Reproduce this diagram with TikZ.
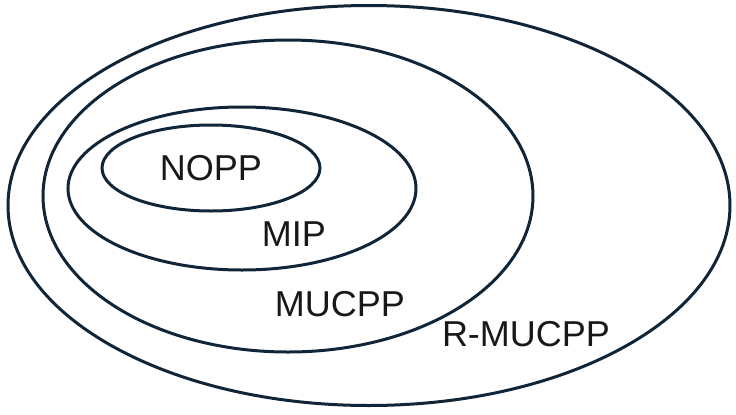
\documentclass[tikz,border=0pt]{standalone}
\usepackage{fontspec}
\setmainfont{Liberation Sans}
\usepackage{xcolor}
\definecolor{setline}{RGB}{16,38,56}
\definecolor{settext}{RGB}{24,24,24}

\begin{document}
\begin{tikzpicture}[x=0.5pt, y=-0.5pt, font=\fontsize{18}{21}\selectfont]
    \tikzset{
        setedge/.style={draw=setline, line width=1.5pt},
        setlabel/.style={text=settext, inner sep=0pt, anchor=center}
    }
    \useasboundingbox (0,0) rectangle (736,414);

    % ===== NESTED SETS =====
    \draw[setedge] (369,205.5) ellipse (361 and 200);   % R-MUCPP
    \draw[setedge] (288,196)   ellipse (245 and 156);   % MUCPP
    \draw[setedge] (242,188.5) ellipse (174 and 81.5);  % MIP
    \draw[setedge] (211,168)   ellipse (109 and 43);    % NOPP

    % ===== LABELS =====
    \node[setlabel] (nopp)   at (211,168)   {NOPP};
    \node[setlabel] (mip)    at (294,234.5) {MIP};
    \node[setlabel] (mucpp)  at (340,304.5) {MUCPP};
    \node[setlabel] (rmucpp) at (526,334.5) {R-MUCPP};

\end{tikzpicture}
\end{document}
